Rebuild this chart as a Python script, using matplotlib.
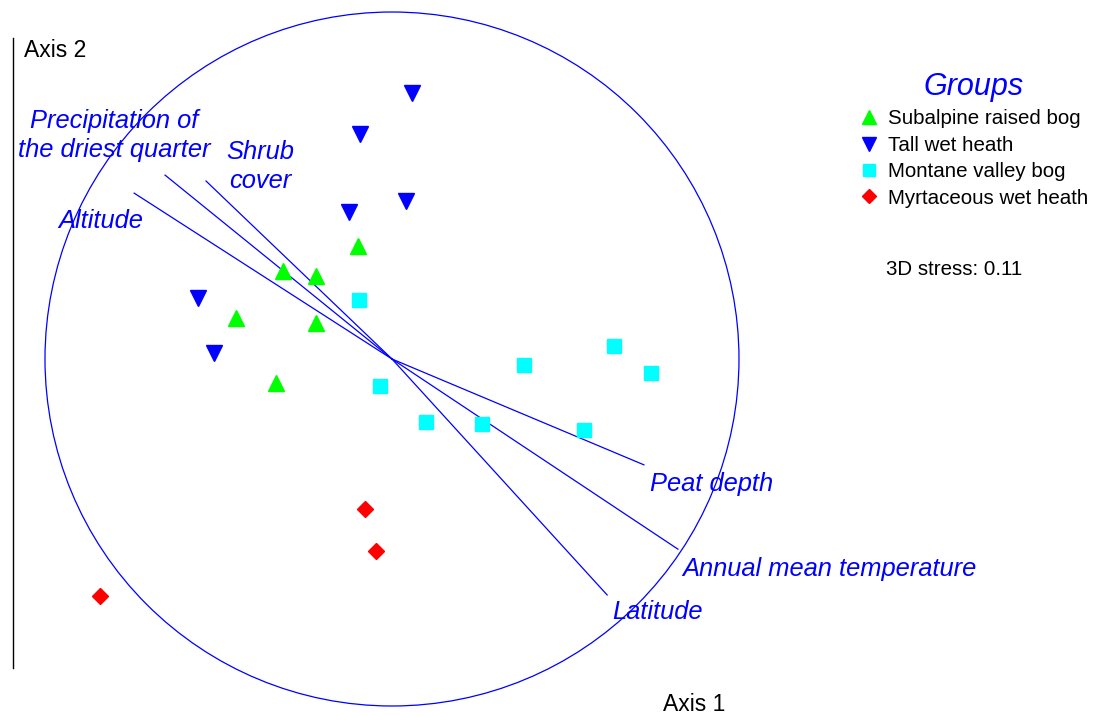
import matplotlib.pyplot as plt
from matplotlib.patches import Circle

plt.rcParams['font.family'] = ['Liberation Sans', 'DejaVu Sans']

# NMDS site scores (axis 1, axis 2) per vegetation group
subalpine_x = [-0.098, -0.314, -0.219, -0.450, -0.219, -0.334]
subalpine_y = [0.326, 0.254, 0.239, 0.118, 0.104, -0.069]

tallheath_x = [0.058, -0.092, 0.040, -0.124, -0.559, -0.513]
tallheath_y = [0.767, 0.648, 0.455, 0.424, 0.176, 0.017]

montane_x = [-0.095, -0.035, 0.098, 0.259, 0.380, 0.640, 0.746, 0.553]
montane_y = [0.170, -0.078, -0.182, -0.187, -0.017, 0.037, -0.040, -0.205]

myrt_x = [-0.078, -0.046, -0.841]
myrt_y = [-0.432, -0.553, -0.683]

# environmental vectors (joint plot)
vec_names = ['Altitude', 'Precipitation of\nthe driest quarter', 'Shrub\ncover',
             'Peat depth', 'Annual mean temperature', 'Latitude']
vec_x = [-0.743, -0.654, -0.536, 0.726, 0.824, 0.620]
vec_y = [0.478, 0.530, 0.513, -0.305, -0.548, -0.680]

# label offsets from the arrow tips, in pixels (last line baseline)
lab_off = [(-76, -35, 'left'), (-51, 18, 'center'), (20, -7, 'left'),
           (6, -26, 'left'), (4, -27, 'left'), (5, -24, 'left')]

W, H = 1094, 715
fig = plt.figure(figsize=(W / 100, H / 100), dpi=100)
ax = fig.add_axes([13 / W, 47 / H, (W - 13) / W, 630 / H])
ax.set_xlim(-1.0922, 2.0231)
ax.set_ylim(-0.8905, 0.9251)
for s in ['top', 'right', 'bottom']:
    ax.spines[s].set_visible(False)
ax.spines['left'].set_linewidth(1.0)
ax.set_xticks([])
ax.set_yticks([])

blue = '#0000ff'

ax.add_patch(Circle((0, 0), 1.0, fill=False, edgecolor=blue, lw=0.9, clip_on=False))

for name, x, y, (dx, dy, ha) in zip(vec_names, vec_x, vec_y, lab_off):
    ax.plot([0, x], [0, y], color=blue, lw=0.9, zorder=2)
    ax.annotate(name, xy=(x, y), xytext=(dx, dy), textcoords='offset pixels',
                ha=ha, va='baseline', multialignment='center', linespacing=1.25,
                color=blue, fontsize=18.4, fontstyle='italic', annotation_clip=False)

h1, = ax.plot(subalpine_x, subalpine_y, '^', color='#00ff00', ms=11.5, ls='none', zorder=3,
              label='Subalpine raised bog')
h2, = ax.plot(tallheath_x, tallheath_y, 'v', color=blue, ms=11.5, ls='none', zorder=3,
              label='Tall wet heath')
h3, = ax.plot(montane_x, montane_y, 's', color='#00ffff', ms=10, ls='none', zorder=3,
              label='Montane valley bog')
h4, = ax.plot(myrt_x, myrt_y, 'D', color='#ff0000', ms=8.2, ls='none', zorder=3,
              label='Myrtaceous wet heath')

leg = ax.legend(handles=[h1, h2, h3, h4], loc='upper left',
                bbox_to_anchor=(859 / W, 1 - 72 / H), bbox_transform=fig.transFigure,
                frameon=False, fontsize=14.8, borderpad=0, borderaxespad=0,
                handlelength=1.0, handletextpad=0.4, labelspacing=0.36,
                markerscale=0.85, title='Groups',
                title_fontproperties={'size': 22, 'style': 'italic'})
leg.get_title().set_color(blue)

fig.text(24 / W, 1 - 57 / H, 'Axis 2', fontsize=16.5, va='baseline')
fig.text(663 / W, 1 - 711 / H, 'Axis 1', fontsize=16.5, va='baseline')
fig.text(886 / W, 1 - 275 / H, '3D stress: 0.11', fontsize=14.8, va='baseline')

fig.savefig('out.png', dpi=100, facecolor='white')
